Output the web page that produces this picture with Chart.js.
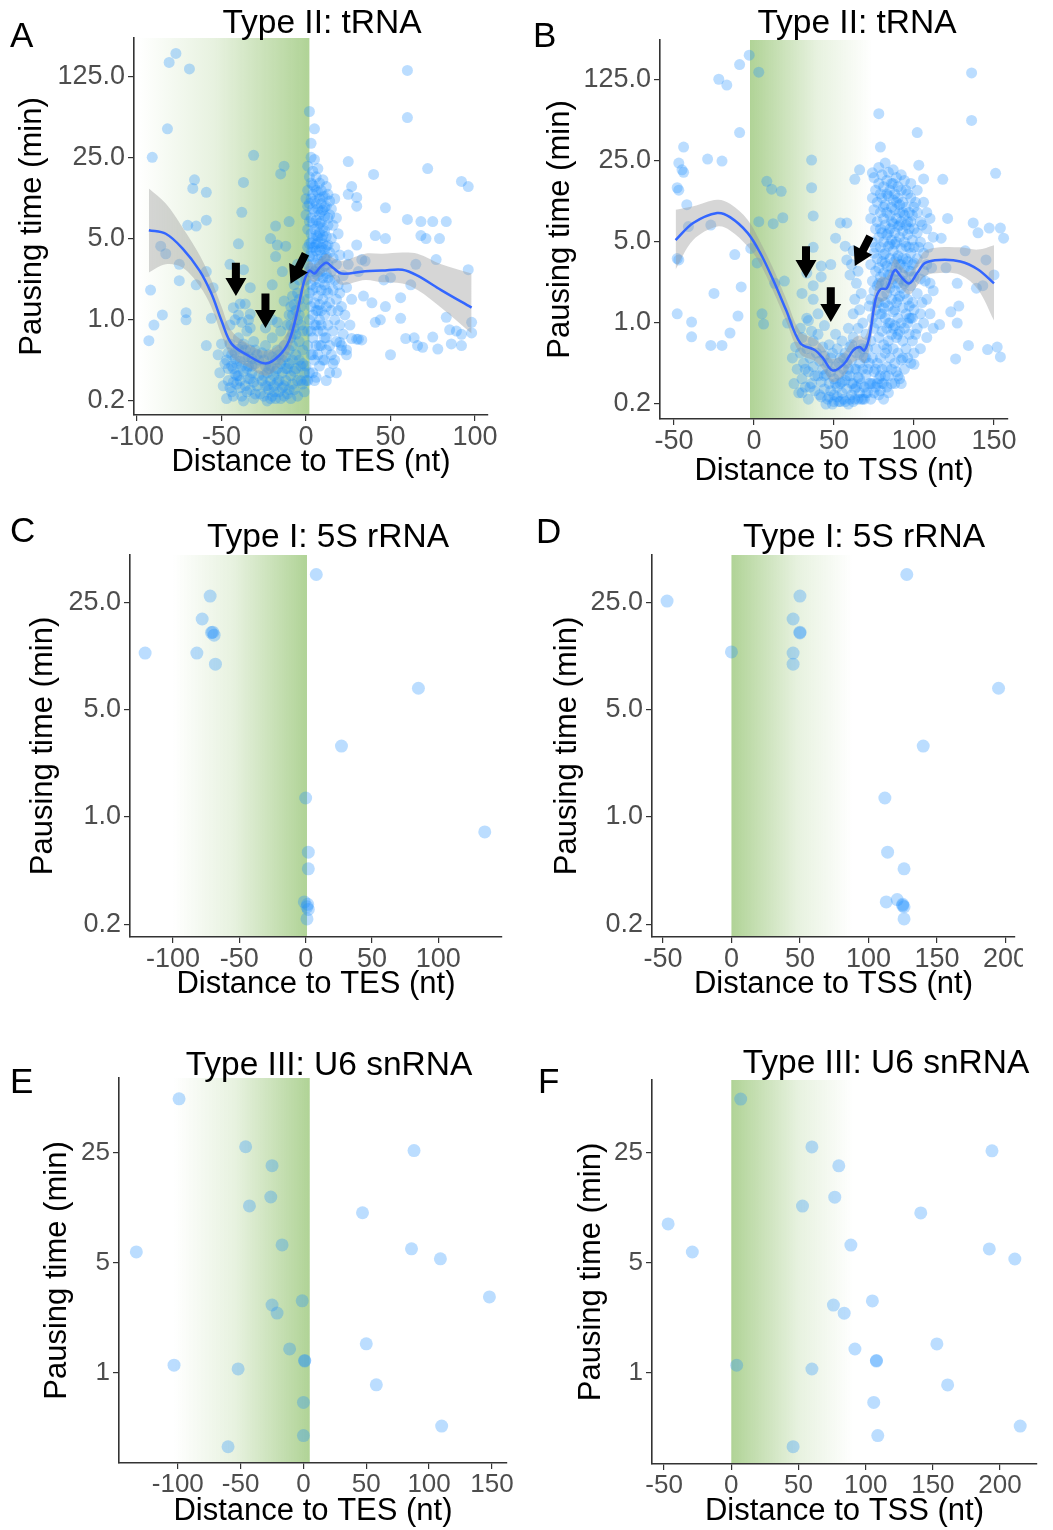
<!DOCTYPE html>
<html>
<head>
<meta charset="utf-8">
<script src="https://cdn.jsdelivr.net/npm/chart.js@4.4.1/dist/chart.umd.min.js"></script>
<style>
  body { margin: 0; background: #fff; }
  #fig { position: relative; width: 1053px; height: 1530px; overflow: hidden; background: #fff;
         font-family: 'Liberation Sans', Arial, sans-serif; }
  .panel { position: absolute; overflow: hidden; }
  .lab { position: absolute; font-size: 35px; line-height: 35px; color: #000; }
  .ttl { position: absolute; font-size: 33.5px; line-height: 33.5px; width: 440px; text-align: center; color: #000; white-space: nowrap; }
</style>
</head>
<body>
<div id="fig"></div>
<script>
const FONT = "'Liberation Sans', Arial, sans-serif";

// tick values / labels
const xTicksA = [-100, -50, 0, 50, 100];
const xTicksB = [-50, 0, 50, 100, 150];
const xTicksC = [-100, -50, 0, 50, 100];
const xTicksD = [-50, 0, 50, 100, 150, 200];
const xTicksE = [-100, -50, 0, 50, 100, 150];
const xTicksF = [-50, 0, 50, 100, 150, 200];
const yTicksAB = [0.2, 1, 5, 25, 125];
const yLabelsAB = ['0.2', '1.0', '5.0', '25.0', '125.0'];
const yTicksCD = [0.2, 1, 5, 25];
const yLabelsCD = ['0.2', '1.0', '5.0', '25.0'];
const yTicksEF = [1, 5, 25];
const yLabelsEF = ['1', '5', '25'];

// Panel A: tRNA, distance to TES  [distance, pausing time]
const aPts = [
  [-77,196],[-81,164],[-69,144],[-82,44],[-91,25],[-31,26],[-13,21],[-15,18],[-66,16],[-67,13.5],
  [-37,15.2],[-59,12.5],[-38,8.4],[-59,7.2],[-70,6.5],[-65,6.4],[-18,6.4],[-10,7],[-40,4.5],[-21,5],
  [-17,4.4],[-18,3.5],[-12,4.3],[-86,4.3],[-83,3.7],[-75,3.0],[-59,2.6],[-92,1.8],[-65,2.0],[-37,2.7],
  [-14,2.6],[-85,1.1],[-90,0.9],[-93,0.66],[-71,1.15],[-71,1.0],[-56,1.03],[-40,1.1],[-43,1.27],[-36,1.37],
  [-34,1.0],[-59,0.6],[-20,2.0],[-13,1.45],[-45,3.0],[-75,2.17],[-33,1.89],[-55,1.89],[-39,1.37],[-33,1.12],
  // cluster around -50..-28
  [-52,0.5],[-51,0.35],[-50,0.62],[-49,0.27],[-48,0.42],[-47,0.45],[-46,0.3],[-45,0.62],[-44,0.24],[-43,0.38],
  [-42,0.52],[-41,0.28],[-40,0.7],[-40,0.33],[-39,0.44],[-38,0.22],[-38,0.58],[-37,0.36],[-36,0.27],[-36,0.48],
  [-35,0.8],[-34,0.31],[-34,0.4],[-33,0.25],[-33,0.55],[-32,0.35],[-31,0.29],[-31,0.65],[-30,0.42],[-30,0.23],
  [-29,0.5],[-28,0.33],[-44,0.5],[-42,0.34],[-39,0.26],[-37,0.62],[-35,0.38],[-32,0.46],[-46,0.38],[-41,0.42],
  [-43,0.29],[-45,0.9],[-42,1.0],[-38,0.95],[-33,0.85],
  [-47,0.21],[-45,0.26],[-43,0.22],[-41,0.33],[-39,0.3],[-37,0.2],[-35,0.24],[-33,0.31],[-31,0.21],[-29,0.27],
  [-46,0.52],[-44,0.4],[-42,0.46],[-40,0.56],[-38,0.4],[-36,0.55],[-34,0.48],[-32,0.4],[-30,0.55],[-28,0.45],
  // cluster around -26..-1
  [-26,0.3],[-25,0.22],[-25,0.45],[-24,0.27],[-24,0.6],[-23,0.35],[-23,0.2],[-22,0.5],[-22,0.25],[-21,0.3],
  [-21,0.4],[-20,0.22],[-20,0.7],[-19,0.33],[-19,0.27],[-18,0.45],[-18,0.21],[-17,0.38],[-17,0.55],[-16,0.24],
  [-16,0.3],[-15,0.8],[-15,0.42],[-14,0.26],[-14,0.35],[-13,0.6],[-13,0.22],[-12,0.48],[-12,0.3],[-11,0.9],
  [-11,0.38],[-10,0.25],[-10,0.55],[-10,1.1],[-9,0.33],[-9,0.7],[-9,1.3],[-8,0.28],[-8,0.45],[-8,1.6],
  [-7,0.85],[-7,2.0],[-7,0.36],[-6,1.2],[-6,2.5],[-6,0.5],[-5,0.3],[-5,1.0],[-5,3.0],[-4,0.65],
  [-4,1.5],[-3,0.4],[-3,0.9],[-2,0.28],[-2,0.55],[-1,0.35],[-24,0.85],[-20,1.0],[-17,0.95],
  [-27,0.23],[-25,0.33],[-23,0.27],[-21,0.21],[-19,0.24],[-17,0.29],[-15,0.21],[-13,0.27],[-11,0.23],[-9,0.21],
  [-7,0.25],[-5,0.22],[-3,0.3],[-1,0.24],[-26,0.52],[-24,0.4],[-22,0.38],[-20,0.48],[-18,0.36],[-16,0.5],
  [-14,0.45],[-12,0.38],[-10,0.42],[-8,0.6],[-6,0.38],[-4,0.45],[-2,0.42],
  [-9,0.9],[-8,1.1],[-7,1.35],[-6,0.75],[-5,1.7],[-4,1.1],[-4,2.2],[-3,1.3],[-2,0.8],[-8,0.75],
  // column right after TES
  [0,0.4],[1,0.3],[1,0.6],[2,1.0],[1,1.5],[0,2.2],[1,3.0],[2,4.5],[1,6],[0,8],
  [2,10],[1,13],[2,17],[1,21],[3,0.5],[3,0.8],[3,1.3],[3,2.0],[3,2.8],[3,3.8],
  [3,5.5],[3,7.5],[3,11],[3,15],[4,0.35],[4,0.7],[4,1.1],[4,1.8],[4,2.5],[4,3.5],
  [4,5],[4,6.8],[4,9],[4,12],[4,19],[5,0.45],[5,0.9],[5,1.4],[5,2.2],[5,3.1],
  [5,4.2],[5,6],[5,8.5],[5,14],[5,24],[6,0.32],[6,0.6],[6,1.2],[6,1.9],[6,2.7],
  [6,3.9],[6,5.3],[6,7.2],[6,10],[6,17],[7,0.5],[7,0.8],[7,1.6],[7,2.4],[7,3.3],
  [7,4.6],[7,6.4],[7,9],[7,12.5],[7,20],[8,0.4],[8,1.0],[8,1.35],[8,2.1],[8,3],
  [8,4],[8,5.6],[8,8],[8,11],[8,15],[9,0.6],[9,1.2],[9,1.8],[9,2.6],[9,3.6],
  [9,5],[9,7],[9,10],[9,13],[10,0.45],[10,0.8],[10,1.5],[10,2.3],[10,3.2],[10,4.5],
  [10,6.2],[10,8.8],[10,16],[11,0.7],[11,1.1],[11,2],[11,2.9],[11,4],[11,5.8],[11,7.8],
  [11,11.5],[12,0.55],[12,1.3],[12,2.5],[12,3.5],[12,5.2],[12,9.5],[12,14],[13,0.9],[13,1.7],
  [13,3],[13,4.4],[13,6.5],[13,12],[14,0.6],[14,1.4],[14,2.2],[14,3.8],[14,8],[14,10.5],
  [15,0.5],[15,1.2],[15,2.6],[15,5],[15,9],[16,0.8],[16,1.8],[16,3.4],[16,6.5],[17,0.45],
  [17,1.0],[17,2.2],[17,4.2],[17,11],[18,0.65],[18,1.5],[18,3],[18,7.5],[19,1.2],[19,2],
  [19,5.5],[20,0.9],[20,1.7],[20,3.6],[21,0.6],[21,1.3],[22,2.4],[22,0.75],[23,1.1],[24,0.5],
  [24,1.9],[25,3.6],[26,0.9],[27,1.5],[2,62],[5,44],[3,33],
  [1,0.8],[2,2.6],[2,3.5],[1,4.2],[2,7],[0,11],[3,25],[4,14.5],[5,10.5],[6,13],
  [7,1.2],[7,5.2],[8,6.8],[8,2.6],[9,4.2],[9,8.5],[10,11.5],[10,5.3],[11,3.4],[11,9.3],
  [12,4.3],[12,1.8],[13,7.5],[13,2.3],[6,4.5],[5,2.6],[4,4.2],[3,4.6],[1,9.5],[2,1.7],
  [6,0.9],[9,0.9],[4,0.5],[0,0.3],[2,0.35],[5,0.3],[8,0.6],[11,0.45],[14,0.35],[16,0.42],
  [18,0.35],[12,0.3],
  // downstream, sparse
  [60,140],[60,55],[25,23],[40,17.8],[72,20],[92,15.5],[96,14],[27,14],[25,12],[30,11.3],
  [30,9.5],[47,9.2],[60,7.3],[68,7],[75,7],[83,7],[68,5.3],[71,5],[79,5],[41,5.3],
  [47,5],[30,4.4],[77,3.3],[96,2.7],[33,3.3],[25,3.0],[31,2.6],[35,3.2],[46,2.2],[50,2.3],
  [65,3.0],[62,2.0],[34,1.6],[39,1.4],[47,1.3],[56,1.55],[56,1.03],[41,0.95],[44,1.0],[83,1.05],
  [85,0.82],[89,0.8],[98,0.95],[92,0.75],[98,0.77],[31,0.68],[27,0.69],[59,0.69],[64,0.7],[66,0.6],
  [69,0.58],[75,0.71],[78,0.56],[86,0.62],[92,0.6],[50,0.5],[20,0.64],[21,0.55],[12,0.7],[24,0.55],
  [30,0.68],[33,0.67]
];
const aFitX  = [-93,-83,-73,-63,-56,-50,-44,-34,-24,-16,-10,-5,-1,2,5,8,12,16,21,35,45,57,66,80,98];
const aFitY  = [5.9,5.5,4.1,2.65,1.68,0.98,0.62,0.49,0.42,0.49,0.66,1.2,2.17,2.65,2.5,2.8,3.1,2.8,2.5,2.62,2.65,2.7,2.4,1.8,1.27];
const aFitHi = [13.5,10,6.2,3.6,2.2,1.3,0.8,0.62,0.54,0.62,0.85,1.5,2.7,3.2,3.0,3.3,3.7,3.4,3.2,3.7,3.7,3.8,3.7,3.0,2.5];
const aFitLo = [2.55,3.0,2.8,1.95,1.28,0.74,0.48,0.39,0.33,0.39,0.52,0.96,1.75,2.2,2.1,2.35,2.6,2.3,2.0,2.2,2.1,2.05,1.8,1.27,0.76];
const aArrows = [[-41.5,3.1,-41.5,1.6],[-24,1.68,-24,0.85],[-0.3,3.7,-9.2,2.04]];

// Panel B: tRNA, distance to TSS
const bPts = [
  [-3,205],[-9,170],[3,146],[-22,127],[-17,113],[-9,44],[-44,33],[-47,24],[-45,21],[-44,20],
  [-29,26],[-20,25],[-48,14.7],[-47,14],[-42,10.5],[8,16.7],[11,14.3],[17,13.7],[3,7.5],[12,7.2],
  [18,8.1],[-27,7],[-41,6.8],[-48,3.6],[-47,3.5],[-12,3.9],[-2,4.4],[2,3.3],[-25,1.8],[-8,2.05],
  [-48,1.2],[-39,1.02],[-39,0.76],[-10,1.15],[-15,0.82],[5,1.2],[6,0.98],[-27,0.64],[-20,0.64],[13,2.2],
  [19,2.3],[21,1.0],[36,25.5],[36,14.7],[37,8.4],[37,4.5],[54,7.3],[51,5.4],[57,4.6],[42,3.1],
  [48,3.2],[37,2.1],[33,2.7],[42,2.5],[37,1.6],[34,1.05],[30,1.8],
  // cluster 24..45
  [24,0.5],[25,0.3],[26,0.62],[27,0.4],[28,0.25],[29,0.55],[30,0.33],[30,0.75],[31,0.45],[32,0.28],
  [33,0.6],[34,0.38],[34,0.22],[35,0.5],[36,0.3],[37,0.7],[37,0.42],[38,0.26],[39,0.55],[40,0.35],
  [40,0.8],[41,0.24],[41,0.47],[42,0.31],[43,0.62],[43,0.4],[44,0.27],[44,0.52],[45,0.36],[29,0.9],
  [33,1.1],[36,0.85],[40,1.2],[44,0.95],
  [30,0.25],[32,0.4],[35,0.28],[38,0.35],[42,0.23],[44,0.35],
  // cluster 46..72
  [46,0.22],[46,0.45],[47,0.3],[47,0.65],[48,0.26],[48,0.38],[49,0.2],[49,0.55],[50,0.33],[50,0.24],
  [51,0.42],[51,0.8],[52,0.28],[52,0.6],[53,0.21],[53,0.36],[54,0.5],[54,0.3],[55,0.25],[55,0.7],
  [56,0.4],[56,0.22],[57,0.32],[57,0.55],[58,0.27],[58,0.45],[59,0.2],[59,0.9],[60,0.35],[60,0.62],
  [61,0.24],[61,0.48],[62,0.3],[62,0.75],[62,1.2],[63,0.4],[63,0.22],[63,1.6],[64,0.55],[64,0.28],
  [64,2.2],[65,0.34],[65,0.9],[65,2.8],[66,0.25],[66,0.45],[66,1.3],[67,0.65],[67,0.3],[67,1.8],
  [68,0.4],[68,0.22],[68,1.0],[69,0.5],[69,0.28],[70,0.36],[70,0.8],[71,0.6],[71,0.25],[72,0.45],
  [72,1.4],[58,3.5],[60,2.6],[61,3.2],[62,4.2],
  [45,0.2],[47,0.23],[50,0.21],[52,0.23],[54,0.21],[55,0.31],[57,0.21],[58,0.35],[60,0.22],[61,0.3],
  [62,0.21],[63,0.27],[65,0.22],[66,0.33],[67,0.22],[69,0.22],[70,0.25],[71,0.4],[72,0.3],[73,0.22],
  [74,0.3],[75,0.25],[76,0.4],[77,0.3],[78,0.24],[79,0.26],[80,0.3],[81,0.22],[82,0.35],[83,0.28],
  [84,0.25],[86,0.4],[88,0.3],[90,0.35],[92,0.3],[53,0.45],[56,0.5],[59,0.4],[61,0.65],[64,0.4],
  [66,0.55],[68,0.6],[70,0.5],[48,0.5],[51,0.3],
  // column 73..112
  [73,0.3],[73,0.7],[73,1.6],[73,3.2],[73,8],[74,0.5],[74,1.1],[74,2.3],[74,5],[74,12],
  [75,0.38],[75,0.9],[75,1.9],[75,4],[75,9.5],[75,18],[76,0.28],[76,0.6],[76,1.3],[76,2.8],
  [76,6.5],[76,14],[77,0.45],[77,1.0],[77,2.1],[77,3.6],[77,7.5],[77,11],[78,0.33],[78,0.75],
  [78,1.5],[78,3],[78,5.5],[78,16],[78,22],[79,0.5],[79,1.2],[79,2.5],[79,4.5],[79,9],
  [79,13],[80,0.4],[80,0.85],[80,1.7],[80,3.4],[80,6],[80,12],[80,19],[81,0.3],[81,0.65],
  [81,1.35],[81,2.7],[81,5],[81,8],[81,15],[82,0.55],[82,1.1],[82,2.2],[82,4],[82,7],
  [82,10.5],[82,24],[83,0.42],[83,0.9],[83,1.8],[83,3.1],[83,5.8],[83,9],[83,17],[84,0.35],
  [84,0.7],[84,1.4],[84,2.6],[84,4.6],[84,12.5],[84,20],[85,0.5],[85,1.0],[85,2.0],[85,3.6],
  [85,6.5],[85,8.5],[85,14],[86,0.3],[86,0.8],[86,1.6],[86,3],[86,5.2],[86,10],[86,16],
  [87,0.6],[87,1.25],[87,2.4],[87,4.2],[87,7.2],[87,11.5],[87,21],[88,0.45],[88,0.95],[88,1.9],
  [88,3.4],[88,6],[88,9.5],[88,13],[89,0.38],[89,0.75],[89,1.5],[89,2.8],[89,5],[89,8],
  [89,18],[90,0.55],[90,1.1],[90,2.2],[90,3.8],[90,6.8],[90,12],[90,15],[91,0.33],[91,0.85],
  [91,1.7],[91,3.2],[91,5.5],[91,9],[91,10.5],[92,0.48],[92,1.0],[92,2.0],[92,4.4],[92,7.5],
  [92,14],[93,0.7],[93,1.35],[93,2.6],[93,3.6],[93,6.2],[93,11],[94,0.4],[94,0.9],[94,1.8],
  [94,3],[94,5],[94,8.5],[94,17],[95,0.6],[95,1.2],[95,2.3],[95,4.6],[95,7],[95,10],
  [96,0.5],[96,1.0],[96,1.6],[96,3.4],[96,5.8],[96,13],[97,0.8],[97,1.4],[97,2.8],[97,6.5],
  [97,9],[98,0.45],[98,1.1],[98,2.1],[98,4],[98,7.5],[98,12],[99,0.7],[99,1.5],[99,3.2],
  [99,5.2],[99,8.5],[100,0.55],[100,1.3],[100,2.5],[100,4.5],[100,10],[102,0.9],[102,1.8],[102,3.6],
  [102,6],[102,9],[102,14],[104,0.6],[104,1.2],[104,2.4],[104,5],[104,7.5],[106,1.0],[106,2.8],
  [106,4],[106,11],[108,0.75],[108,1.6],[108,3.2],[108,6.5],[108,9],[110,1.2],[110,2.2],[110,8],
  [112,0.9],[112,1.9],[112,5.5],
  [79,0.35],[80,2.2],[81,10],[82,3.3],[83,13],[84,6],[85,2.6],[86,7.5],[87,0.9],[87,16],
  [88,4.8],[89,11],[90,1.6],[91,2.4],[91,7],[92,3.2],[92,19],[93,0.5],[93,9],[94,2.2],
  [95,3.6],[95,14],[96,7.5],[97,4.5],[97,1.1],[98,2.8],[98,16],[99,1.1],[100,6.5],[100,3.3],
  [101,0.8],[101,11],[103,4.5],[105,1.5],[105,7],[107,2.3],[109,4.5],[111,3],[76,4.5],[77,1.5],
  [78,2.2],[79,6.5],[80,1.2],[81,3.9],[82,1.5],[83,0.6],[84,1.0],[85,4.8],[86,2.2],[88,1.3],
  [89,3.6],[90,0.8],
  // downstream, sparse
  [136,144],[136,56],[78,64],[102,44],[79,33],[151,19.6],[103,23],[66,21],[63,17.4],[74,19.8],
  [118,17.4],[106,17.5],[121,8],[137,7.3],[140,6],[147,6.6],[154,6.6],[156,5.4],[117,5.4],[58,7.3],
  [127,2.2],[139,2.0],[143,2.1],[116,0.97],[127,1.0],[128,1.4],[123,1.25],[134,0.64],[146,0.59],[152,0.62],
  [154,0.51],[126,0.49],[100,0.44],[145,3.5],[150,2.6],[132,4.2],[120,3.0]
];
const bFitX  = [-49,-38,-23,-15,-4,4,12,20,29,38,43,49,56,62,66,69,72,76,79,83,88,92,97,102,107,116,129,140,150];
const bFitY  = [5.2,7.3,8.9,8.2,6.0,4.0,2.35,1.3,0.67,0.585,0.5,0.39,0.44,0.58,0.62,0.58,0.75,1.6,1.95,2.0,2.87,2.5,2.2,2.7,3.3,3.5,3.4,2.9,2.2];
const bFitHi = [9.5,10.2,11.6,10.7,7.8,5.0,2.95,1.63,0.84,0.73,0.63,0.49,0.55,0.73,0.78,0.75,0.97,2.1,2.5,2.5,3.6,3.1,2.75,3.4,4.2,4.5,4.5,4.3,4.7];
const bFitLo = [2.9,5.2,6.8,6.3,4.6,3.2,1.88,1.04,0.54,0.47,0.4,0.31,0.35,0.46,0.48,0.45,0.58,1.23,1.5,1.6,2.3,2.0,1.76,2.1,2.55,2.7,2.6,1.95,1.05];
const bArrows = [[32.5,4.6,32.5,2.45],[48,2.04,48,1.02],[72.5,5.6,63,3.1]];

// Panel C / D: 5S rRNA
const cPts = [
  [8,38],[-72,27.5],[-78,19.5],[-71,15.9],[-69,15.3],[-70,16],[-121,11.7],[-82,11.7],[-68,9.9],[85,6.9],
  [27,2.9],[0,1.33],[135,0.8],[2,0.59],[2,0.46],[-1,0.28],[1.5,0.27],[1,0.26],[2,0.25],[1,0.217]
];
const dPts = [
  [128,38],[-47,25.5],[50,27.5],[45,19.5],[50,15.8],[50,16],[0,11.9],[45,11.7],[45,9.9],[195,6.9],
  [140,2.9],[112,1.33],[114,0.59],[126,0.46],[113,0.28],[121,0.29],[125,0.27],[126,0.26],[125,0.265],[126,0.217]
];

// Panel E / F: U6 snRNA
const ePts = [
  [-99,55],[-46,27.3],[88,25.8],[-25,20.7],[-26,13.1],[-43,11.5],[47,10.4],[-17,6.5],[-133,5.87],[86,6.14],
  [109,5.3],[-1,2.87],[148,3.04],[-25,2.7],[-21,2.4],[50,1.53],[-11,1.42],[1,1.19],[1,1.2],[-103,1.12],
  [-52,1.06],[58,0.84],[0,0.65],[110,0.46],[0,0.40],[-60,0.34]
];
const fPts = [
  [7,55],[60,27.3],[194,25.8],[80,20.7],[77,13.1],[53,11.5],[141,10.4],[-47,8.85],[89,6.5],[-29,5.87],
  [192,6.14],[211,5.3],[105,2.87],[76,2.7],[84,2.4],[153,1.53],[92,1.42],[108,1.19],[108,1.2],[4,1.12],
  [60,1.06],[161,0.84],[106,0.65],[215,0.46],[109,0.40],[46,0.34]
];

const panels = [
  { letter: 'A', title: 'Type II: tRNA', box: [0, 0, 520, 490], area: [134, 38, 488, 415],
    x: [-101.8, 107.7], y: [0.1515, 266], xTicks: xTicksA, yTicks: yTicksAB, yLabels: yLabelsAB,
    xTitle: 'Distance to TES (nt)', yTitleX: 32.5, xTitleY: 462, shade: [-100, 2],
    pts: aPts, r: 5.5, fit: [aFitX, aFitY, aFitLo, aFitHi], arrows: aArrows, tick: 27,
    letterPos: [10, 17], titlePos: [322, 5] },
  { letter: 'B', title: 'Type II: tRNA', box: [520, 0, 533, 490], area: [660, 40, 1008, 419],
    x: [-58.75, 158.75], y: [0.1485, 277], xTicks: xTicksB, yTicks: yTicksAB, yLabels: yLabelsAB,
    xTitle: 'Distance to TSS (nt)', yTitleX: 560, xTitleY: 471, shade: [74, -2.5],
    pts: bPts, r: 5.5, fit: [bFitX, bFitY, bFitLo, bFitHi], arrows: bArrows, tick: 27,
    letterPos: [533, 17], titlePos: [857, 5] },
  { letter: 'C', title: 'Type I: 5S rRNA', box: [0, 500, 520, 510], area: [130, 555, 502, 937],
    x: [-132.4, 148], y: [0.1654, 50.9], xTicks: xTicksC, yTicks: yTicksCD, yLabels: yLabelsCD,
    xTitle: 'Distance to TES (nt)', yTitleX: 43, xTitleY: 984, shade: [-100, 1],
    pts: cPts, r: 6.5, tick: 27, letterPos: [10, 512], titlePos: [328, 519] },
  { letter: 'D', title: 'Type I: 5S rRNA', box: [520, 500, 533, 510], clipW: 503, area: [652, 555, 1015, 937],
    x: [-58, 207], y: [0.1654, 50.9], xTicks: xTicksD, yTicks: yTicksCD, yLabels: yLabelsCD,
    xTitle: 'Distance to TSS (nt)', yTitleX: 567, xTitleY: 984, shade: [88, 0],
    pts: dPts, r: 6.5, tick: 27, letterPos: [536, 513], titlePos: [864, 519] },
  { letter: 'E', title: 'Type III: U6 snRNA', box: [0, 1010, 520, 520], area: [119, 1078, 507, 1463],
    x: [-146.8, 162], y: [0.268, 74.6], xTicks: xTicksE, yTicks: yTicksEF, yLabels: yLabelsEF,
    xTitle: 'Distance to TES (nt)', yTitleX: 57, xTitleY: 1512, shade: [-103, 5],
    pts: ePts, r: 6.5, tick: 26, letterPos: [10, 1063], titlePos: [329, 1047] },
  { letter: 'F', title: 'Type III: U6 snRNA', box: [520, 1010, 533, 520], area: [652, 1080, 1037, 1464],
    x: [-59, 227.5], y: [0.264, 72.7], xTicks: xTicksF, yTicks: yTicksEF, yLabels: yLabelsEF,
    xTitle: 'Distance to TSS (nt)', yTitleX: 591, xTitleY: 1511, shade: [91, 0],
    pts: fPts, r: 6.5, tick: 26, letterPos: [538, 1063], titlePos: [886, 1045] }
];

// green gradient behind the gene body
const shadePlugin = {
  id: 'shade',
  beforeDatasetsDraw(chart, args, opts) {
    if (!opts.range) return;
    const { ctx, chartArea: a, scales: { x } } = chart;
    const x0 = x.getPixelForValue(opts.range[0]);   // white end
    const x1 = x.getPixelForValue(opts.range[1]);   // green end
    const g = ctx.createLinearGradient(x0, 0, x1, 0);
    g.addColorStop(0, 'rgba(176,211,150,0)');
    g.addColorStop(0.45, 'rgba(176,211,150,0.3)');
    g.addColorStop(1, 'rgba(176,211,150,1)');
    ctx.save();
    ctx.fillStyle = g;
    ctx.fillRect(Math.min(x0, x1), a.top, Math.abs(x1 - x0), a.bottom - a.top - 1);
    ctx.restore();
  }
};

// black arrows, positioned in data units
const arrowPlugin = {
  id: 'arrows',
  afterDatasetsDraw(chart, args, opts) {
    if (!opts.list) return;
    const { ctx, scales: { x, y } } = chart;
    ctx.save();
    ctx.fillStyle = '#000';
    opts.list.forEach(([dx0, dy0, dx1, dy1]) => {
      const ax = x.getPixelForValue(dx0), ay = y.getPixelForValue(dy0);
      const bx = x.getPixelForValue(dx1), by = y.getPixelForValue(dy1);
      const len = Math.hypot(bx - ax, by - ay);
      const ux = (bx - ax) / len, uy = (by - ay) / len, nx = -uy, ny = ux;
      const hl = 18, hw = 10.5, sw = 4;
      const cx = bx - ux * hl, cy = by - uy * hl;
      ctx.beginPath();
      ctx.moveTo(ax + nx * sw, ay + ny * sw);
      ctx.lineTo(cx + nx * sw, cy + ny * sw);
      ctx.lineTo(cx + nx * hw, cy + ny * hw);
      ctx.lineTo(bx, by);
      ctx.lineTo(cx - nx * hw, cy - ny * hw);
      ctx.lineTo(cx - nx * sw, cy - ny * sw);
      ctx.lineTo(ax - nx * sw, ay - ny * sw);
      ctx.closePath();
      ctx.fill();
    });
    ctx.restore();
  }
};

const fig = document.getElementById('fig');

panels.forEach(p => {
  const [L, T, W, H] = p.box;
  const [al, at, ar, ab] = p.area;
  const wrap = document.createElement('div');
  wrap.className = 'panel';
  wrap.style.left = L + 'px'; wrap.style.top = T + 'px';
  wrap.style.width = (p.clipW || W) + 'px'; wrap.style.height = H + 'px';
  const cv = document.createElement('canvas');
  cv.width = W; cv.height = H;
  cv.style.width = W + 'px'; cv.style.height = H + 'px';
  wrap.appendChild(cv);
  fig.appendChild(wrap);

  const titleLH = 31 * 1.2;
  const datasets = [{
    type: 'scatter',
    data: p.pts.map(([x, y]) => ({ x, y })),
    pointRadius: p.r,
    backgroundColor: 'rgba(30,144,255,0.3)',
    borderWidth: 0,
    borderColor: 'rgba(0,0,0,0)',
    clip: false,
    order: 2
  }];
  if (p.fit) {
    const [fx, fy, flo, fhi] = p.fit;
    datasets.push({
      type: 'line', data: fx.map((x, i) => ({ x, y: fhi[i] })),
      borderColor: 'rgba(0,0,0,0)', borderWidth: 0, pointRadius: 0, tension: 0.35,
      fill: '+1', backgroundColor: 'rgba(153,153,153,0.4)', order: 1
    });
    datasets.push({
      type: 'line', data: fx.map((x, i) => ({ x, y: flo[i] })),
      borderColor: 'rgba(0,0,0,0)', borderWidth: 0, pointRadius: 0, tension: 0.35,
      fill: false, order: 1
    });
    datasets.push({
      type: 'line', data: fx.map((x, i) => ({ x, y: fy[i] })),
      borderColor: '#3366FF', borderWidth: 2.5, pointRadius: 0, tension: 0.35,
      fill: false, order: 0
    });
  }

  const axisCommon = {
    bounds: 'data',
    grid: { display: true, drawOnChartArea: false, drawTicks: true, tickLength: 6, color: '#333', lineWidth: 1.2 },
    border: { display: true, color: '#333', width: 1.6 }
  };

  new Chart(cv, {
    type: 'scatter',
    data: { datasets },
    options: {
      responsive: false,
      animation: false,
      events: [],
      devicePixelRatio: 1,
      layout: { padding: { left: 0, top: at - T, right: L + W - ar, bottom: 0 } },
      plugins: {
        legend: { display: false },
        tooltip: { enabled: false },
        shade: { range: p.shade },
        arrows: { list: p.arrows }
      },
      scales: {
        x: Object.assign({}, axisCommon, {
          type: 'linear', min: p.x[0], max: p.x[1],
          afterBuildTicks: s => { s.ticks = p.xTicks.map(v => ({ value: v })); },
          afterFit: s => { s.height = T + H - ab; },
          ticks: { autoSkip: false, maxRotation: 0, padding: 0, color: '#4d4d4d',
                   font: { family: FONT, size: p.tick }, callback: v => String(v) },
          title: { display: true, text: p.xTitle, color: '#000', font: { family: FONT, size: 31 },
                   padding: { top: 0, bottom: Math.max(0, T + H - p.xTitleY - titleLH / 2) } }
        }),
        y: Object.assign({}, axisCommon, {
          type: 'logarithmic', min: p.y[0], max: p.y[1],
          afterBuildTicks: s => { s.ticks = p.yTicks.map(v => ({ value: v })); },
          afterFit: s => { s.width = al - L; },
          ticks: { autoSkip: false, padding: 3, color: '#4d4d4d',
                   font: { family: FONT, size: p.tick }, callback: (v, i) => p.yLabels[i] },
          title: { display: true, text: 'Pausing time (min)', color: '#000', font: { family: FONT, size: 31 },
                   padding: { top: Math.max(0, p.yTitleX - L - titleLH / 2), bottom: 0 } }
        })
      }
    },
    plugins: [shadePlugin, arrowPlugin]
  });

  const lab = document.createElement('div');
  lab.className = 'lab';
  lab.textContent = p.letter;
  lab.style.left = p.letterPos[0] + 'px';
  lab.style.top = p.letterPos[1] + 'px';
  fig.appendChild(lab);

  const ttl = document.createElement('div');
  ttl.className = 'ttl';
  ttl.textContent = p.title;
  ttl.style.left = (p.titlePos[0] - 220) + 'px';
  ttl.style.top = p.titlePos[1] + 'px';
  fig.appendChild(ttl);
});
</script>
</body>
</html>
